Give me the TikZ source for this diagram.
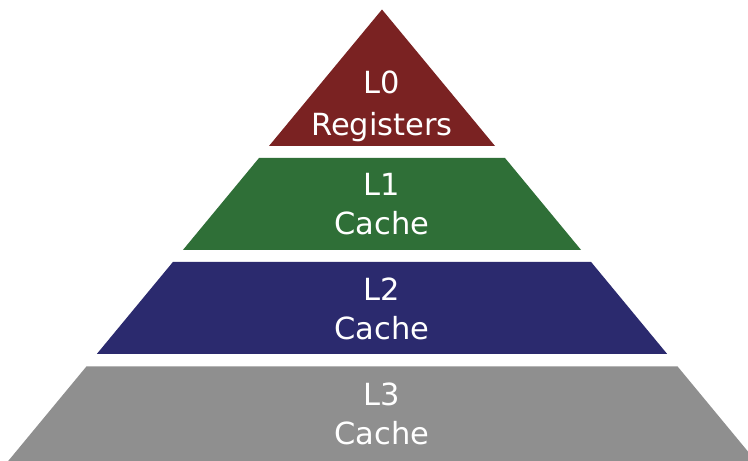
\documentclass[tikz,border=0pt]{standalone}
\usepackage{fontspec}
\setmainfont{DejaVu Sans}
\definecolor{lzero}{HTML}{7A2222}
\definecolor{lone}{HTML}{2F6F37}
\definecolor{ltwo}{HTML}{2B2A6E}
\definecolor{lthree}{HTML}{8F8F8F}
\begin{document}
\begin{tikzpicture}[x=1pt,y=1pt,
  band/.style={draw=none},
  lbl/.style={text=white,font=\fontsize{30.5}{36}\selectfont,anchor=base,inner sep=0pt}]
\clip (0,0) rectangle (748,461);
\fill[white] (0,0) rectangle (748,461);
\fill[band,lzero] (382,451.5) -- (495,315) -- (269,315) -- cycle;
\fill[band,lone] (259,303) -- (505,303) -- (581.1,211) -- (182.9,211) -- cycle;
\fill[band,ltwo] (172.9,199) -- (591.1,199) -- (667.2,107) -- (96.8,107) -- cycle;
\fill[band,lthree] (86.4,94.5) -- (677.6,94.5) -- (755.8,0) -- (8.2,0) -- cycle;
\node[lbl] (t0a) at (382,367) {L0};
\node[lbl] (t0b) at (382,325) {Registers};
\node[lbl] (t1a) at (382,265) {L1};
\node[lbl] (t1b) at (382,226) {Cache};
\node[lbl] (t2a) at (382,160) {L2};
\node[lbl] (t2b) at (382,121) {Cache};
\node[lbl] (t3a) at (382,55) {L3};
\node[lbl] (t3b) at (382,16) {Cache};
\end{tikzpicture}
\end{document}
